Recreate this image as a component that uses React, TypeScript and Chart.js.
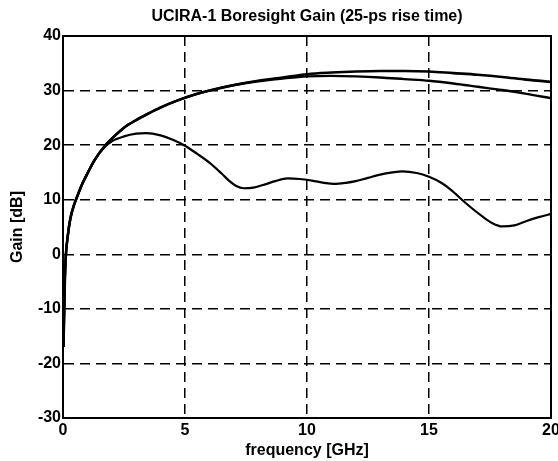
import React, { useEffect, useRef } from 'react';
import { Chart, registerables } from 'chart.js';

Chart.register(...registerables);

const titleText = 'UCIRA-1 Boresight Gain (25-ps rise time)';
const xTitle = 'frequency [GHz]';
const yTitle = 'Gain [dB]';

const xTicks = [0, 5, 10, 15, 20];
const yTicks = [-30, -20, -10, 0, 10, 20, 30, 40];

const freqA = [0.02, 0.05, 0.08, 0.12, 0.2, 0.3, 0.45, 0.6, 0.8, 1.0, 1.3, 1.7, 2.0, 2.5, 3.0, 3.5, 4.0, 4.7, 5.5, 6, 7, 8, 9, 10, 11, 12, 13, 14, 15, 16, 17, 18, 19, 20];
const gainA = [-17, -10, -4, 0, 3.5, 6.5, 9, 10.8, 13, 14.8, 17.3, 19.8, 21.2, 23.2, 24.6, 25.8, 26.9, 28.2, 29.4, 30.0, 31.0, 31.8, 32.4, 33.0, 33.3, 33.5, 33.6, 33.6, 33.5, 33.2, 32.9, 32.5, 32.0, 31.6];

const freqB = [0.02, 0.05, 0.08, 0.12, 0.2, 0.3, 0.45, 0.6, 0.8, 1.0, 1.3, 1.7, 2.0, 2.5, 3.0, 3.5, 4.0, 4.7, 5.5, 6, 7, 8, 9, 10, 11, 12, 13, 14, 15, 16, 17, 18, 19, 20];
const gainB = [-17, -10, -4, 0, 3.5, 6.5, 9, 10.8, 13, 14.8, 17.3, 19.8, 21.2, 23.2, 24.6, 25.8, 26.9, 28.2, 29.4, 30.0, 31.0, 31.7, 32.2, 32.6, 32.7, 32.6, 32.4, 32.1, 31.8, 31.3, 30.7, 30.1, 29.4, 28.6];

const freqC = [0.02, 0.05, 0.08, 0.12, 0.2, 0.3, 0.45, 0.6, 0.8, 1.0, 1.3, 1.7, 2.0, 2.5, 3.0, 3.4, 4.0, 4.5, 5.0, 5.5, 6.0, 6.5, 6.85, 7.1, 7.4, 7.8, 8.2, 8.7, 9.2, 9.7, 10.2, 10.7, 11.1, 11.6, 12.0, 12.5, 13.0, 13.5, 13.9, 14.5, 15.0, 15.5, 15.9, 16.5, 17.2, 17.6, 18.0, 18.5, 19.0, 19.5, 20.0];
const gainC = [-17, -10, -4, 0, 3.5, 6.5, 9, 10.8, 13, 14.8, 17.3, 19.6, 20.7, 21.6, 22.1, 22.2, 21.8, 21.0, 19.9, 18.4, 16.8, 14.8, 13.3, 12.5, 12.1, 12.2, 12.7, 13.4, 13.9, 13.8, 13.5, 13.1, 12.9, 13.1, 13.4, 14.0, 14.6, 15.0, 15.2, 14.9, 14.2, 13.1, 11.8, 9.4, 6.9, 5.7, 5.1, 5.3, 6.1, 6.8, 7.4];

const FONT = '"Liberation Sans", Arial, Helvetica, sans-serif';

const toPoints = (xs: number[], ys: number[]) => xs.map((x, i) => ({ x, y: ys[i] }));

const framePlugin = {
  id: 'frame',
  afterDraw(chart: any) {
    const { ctx, chartArea } = chart;
    ctx.save();
    ctx.strokeStyle = '#000';
    ctx.lineWidth = 2;
    ctx.setLineDash([]);
    ctx.strokeRect(chartArea.left, chartArea.top, chartArea.right - chartArea.left, chartArea.bottom - chartArea.top);
    ctx.restore();
  },
};

export default function App() {
  const canvasRef = useRef<HTMLCanvasElement>(null);

  useEffect(() => {
    if (!canvasRef.current) return;
    const lineDs = (label: string, xs: number[], ys: number[], w: number) => ({
      label,
      data: toPoints(xs, ys),
      borderColor: '#000',
      borderWidth: w,
      pointRadius: 0,
      fill: false,
      cubicInterpolationMode: 'monotone' as const,
    });
    const tickFont = { family: FONT, size: 16, weight: 'bold' as const };
    const chart = new Chart(canvasRef.current, {
      type: 'line',
      data: {
        datasets: [
          lineDs('A', freqA, gainA, 2.6),
          lineDs('B', freqB, gainB, 2.4),
          lineDs('C', freqC, gainC, 2.2),
        ],
      },
      options: {
        responsive: false,
        maintainAspectRatio: false,
        animation: false,
        layout: { padding: { top: 0, right: 7, bottom: 0, left: 0 } },
        plugins: {
          legend: { display: false },
          tooltip: { enabled: false },
          title: {
            display: true,
            text: titleText,
            fullSize: false,
            color: '#000',
            font: { family: FONT, size: 16, weight: 'bold' },
            padding: { top: 7, bottom: 9.8 },
          },
        },
        scales: {
          x: {
            type: 'linear',
            min: 0,
            max: 20,
            afterBuildTicks: (s: any) => {
              s.ticks = xTicks.map((v) => ({ value: v }));
            },
            ticks: { color: '#000', font: tickFont, padding: 3, maxRotation: 0 },
            grid: { color: '#000', lineWidth: 1.5, drawTicks: false },
            border: { display: true, color: '#000', width: 2, dash: [10, 6] },
            title: {
              display: true,
              text: xTitle,
              color: '#000',
              font: tickFont,
              padding: { top: 0, bottom: 1 },
            },
            afterFit: (s: any) => {
              s.height = 43;
              s.paddingLeft = 0;
              s.paddingRight = 0;
            },
          },
          y: {
            type: 'linear',
            min: -30,
            max: 40,
            afterBuildTicks: (s: any) => {
              s.ticks = yTicks.map((v) => ({ value: v }));
            },
            ticks: { color: '#000', font: tickFont, padding: 2 },
            grid: { color: '#000', lineWidth: 1.5, drawTicks: false },
            border: { display: true, color: '#000', width: 2, dash: [10, 6] },
            title: {
              display: true,
              text: yTitle,
              color: '#000',
              font: tickFont,
              padding: { top: 8, bottom: 0 },
            },
            afterFit: (s: any) => {
              s.width = 63;
            },
          },
        },
      },
      plugins: [framePlugin],
    });
    return () => chart.destroy();
  }, []);

  return (
    <div style={{ position: 'absolute', left: 0, top: 0, width: 558, height: 461, background: '#fff' }}>
      <canvas ref={canvasRef} width={558} height={461} />
    </div>
  );
}
